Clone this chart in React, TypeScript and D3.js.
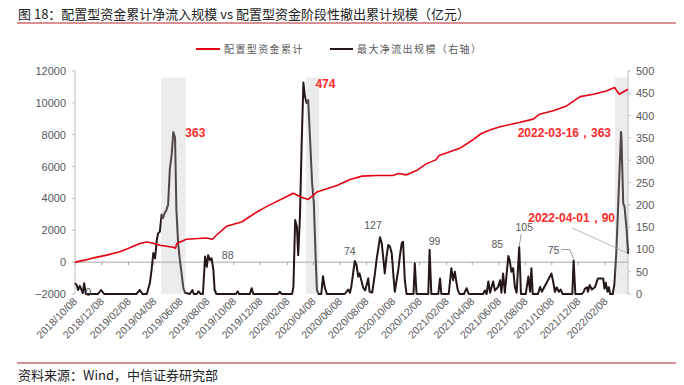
import React from 'react';
import * as d3 from 'd3';

// ---------- DATA ----------
const xTickLabels = [
  '2018/10/08', '2018/12/08', '2019/02/08', '2019/04/08', '2019/06/08', '2019/08/08',
  '2019/10/08', '2019/12/08', '2020/02/08', '2020/04/08', '2020/06/08', '2020/08/08',
  '2020/10/08', '2020/12/08', '2021/02/08', '2021/04/08', '2021/06/08', '2021/08/08',
  '2021/10/08', '2021/12/08', '2022/02/08',
];
const leftTicks = [-2000, 0, 2000, 4000, 6000, 8000, 10000, 12000];
const rightTicks = [0, 50, 100, 150, 200, 250, 300, 350, 400, 450, 500];

// 配置型资金累计 (left axis)
const cumDates = [
  '2018-10-08', '2018-10-31', '2018-11-20', '2018-12-20', '2019-01-19', '2019-02-11',
  '2019-03-06', '2019-03-22', '2019-04-03', '2019-04-21', '2019-05-07', '2019-05-21',
  '2019-05-27', '2019-05-30', '2019-06-21', '2019-08-06', '2019-08-20', '2019-08-29',
  '2019-09-21', '2019-10-26', '2019-11-30', '2019-12-23', '2020-02-07', '2020-02-21',
  '2020-03-12', '2020-03-27', '2020-04-16', '2020-06-01', '2020-07-01', '2020-07-29',
  '2020-09-01', '2020-10-08', '2020-10-20', '2020-11-08', '2020-12-01', '2020-12-23',
  '2021-01-14', '2021-01-22', '2021-02-22', '2021-03-12', '2021-04-08', '2021-04-28',
  '2021-05-20', '2021-06-11', '2021-07-25', '2021-08-26', '2021-09-10', '2021-10-11',
  '2021-11-11', '2021-12-12', '2022-01-12', '2022-02-10', '2022-03-01', '2022-03-12',
  '2022-04-01',
];
const cumValues = [
  0, 125, 270, 440, 650, 900,
  1170, 1270, 1200, 1060, 1000, 940,
  880, 1170, 1440, 1520, 1440, 1690,
  2250, 2520, 3150, 3500, 4125, 4330,
  4080, 3940, 4400, 4810, 5190, 5400,
  5440, 5440, 5560, 5480, 5750, 6170,
  6420, 6690, 7000, 7170, 7650, 8060,
  8310, 8500, 8770, 8980, 9290, 9500,
  9810, 10390, 10540, 10750, 10960, 10540,
  10850,
];

// 最大净流出规模 (right axis)
const outDates = [
  '2018-10-08', '2018-10-12', '2018-10-15', '2018-10-19', '2018-10-26', '2018-10-29', '2018-11-02',
  '2018-11-30', '2018-12-07', '2018-12-14', '2019-02-26', '2019-03-06', '2019-03-12', '2019-03-22',
  '2019-03-29', '2019-04-02', '2019-04-06', '2019-04-10', '2019-04-14', '2019-04-17', '2019-04-21',
  '2019-04-25', '2019-04-28', '2019-05-02', '2019-05-06', '2019-05-10', '2019-05-14', '2019-05-18',
  '2019-05-22', '2019-05-26', '2019-05-29', '2019-06-02', '2019-06-06', '2019-06-10', '2019-06-14',
  '2019-06-18', '2019-06-29', '2019-07-05', '2019-07-08', '2019-07-15', '2019-07-19', '2019-07-24',
  '2019-07-29', '2019-08-03', '2019-08-07', '2019-08-10', '2019-08-14', '2019-08-18', '2019-08-22',
  '2019-08-25', '2019-08-29', '2019-10-13', '2019-10-17', '2019-10-20', '2019-11-14', '2019-11-18',
  '2019-11-22', '2020-01-17', '2020-01-22', '2020-01-26', '2020-02-19', '2020-02-22', '2020-02-26',
  '2020-03-01', '2020-03-04', '2020-03-08', '2020-03-12', '2020-03-16', '2020-03-19', '2020-03-23',
  '2020-03-27', '2020-03-31', '2020-04-05', '2020-04-09', '2020-04-13', '2020-04-16', '2020-04-20',
  '2020-04-26', '2020-04-30', '2020-05-04', '2020-05-09', '2020-06-19', '2020-06-27', '2020-07-01',
  '2020-07-04', '2020-07-12', '2020-07-16', '2020-07-20', '2020-07-23', '2020-07-27', '2020-07-31',
  '2020-08-05', '2020-08-12', '2020-08-15', '2020-08-21', '2020-08-27', '2020-08-31', '2020-09-08',
  '2020-09-12', '2020-09-16', '2020-09-19', '2020-09-23', '2020-09-27', '2020-10-01', '2020-10-05',
  '2020-10-09', '2020-10-12', '2020-10-20', '2020-10-24', '2020-10-28', '2020-10-31', '2020-11-04',
  '2020-11-08', '2020-11-24', '2020-11-27', '2020-12-01', '2020-12-28', '2020-12-31', '2021-01-04',
  '2021-01-20', '2021-01-24', '2021-01-27', '2021-02-13', '2021-02-19', '2021-02-23', '2021-02-27',
  '2021-03-03', '2021-03-06', '2021-03-10', '2021-03-20', '2021-03-26', '2021-03-31', '2021-05-03',
  '2021-05-07', '2021-05-11', '2021-05-15', '2021-05-19', '2021-05-26', '2021-05-30', '2021-06-06',
  '2021-06-11', '2021-06-14', '2021-06-18', '2021-06-22', '2021-06-30', '2021-07-03', '2021-07-07',
  '2021-07-11', '2021-07-15', '2021-07-19', '2021-07-25', '2021-07-29', '2021-08-09', '2021-08-15',
  '2021-08-19', '2021-08-22', '2021-08-25', '2021-09-06', '2021-09-11', '2021-09-15', '2021-09-29',
  '2021-10-07', '2021-10-11', '2021-10-15', '2021-10-19', '2021-10-24', '2021-10-28', '2021-11-02',
  '2021-11-24', '2021-11-27', '2021-12-01', '2021-12-16', '2021-12-20', '2021-12-23', '2021-12-28',
  '2021-12-30', '2022-01-03', '2022-01-08', '2022-01-15', '2022-01-22', '2022-02-03', '2022-02-06',
  '2022-02-09', '2022-02-13', '2022-02-16', '2022-02-19', '2022-02-25', '2022-03-01', '2022-03-05',
  '2022-03-09', '2022-03-16', '2022-03-17', '2022-03-21', '2022-03-24', '2022-03-29', '2022-04-01',
];
const outValues = [
  24, 20, 9, 18, 2, 24, 0,
  0, 9, 0, 0, 9, 0, 0,
  24, 54, 92, 80, 121, 136, 140,
  178, 170, 181, 188, 200, 280, 310,
  363, 350, 190, 114, 76, 46, 13,
  3, 0, 9, 0, 0, 6, 0,
  0, 84, 61, 87, 76, 80, 54,
  9, 0, 0, 6, 0, 0, 13,
  0, 0, 5, 0, 0, 16, 166,
  151, 87, 173, 338, 474, 446, 428,
  435, 353, 248, 203, 84, 9, 0,
  0, 40, 15, 0, 0, 10, 3,
  16, 74, 65, 39, 46, 31, 15,
  8, 35, 5, 3, 43, 76, 127,
  114, 76, 46, 84, 110, 106, 91,
  39, 5, 54, 87, 114, 117, 31,
  0, 0, 69, 0, 0, 99, 0,
  0, 35, 0, 0, 58, 31, 50,
  24, 8, 0, 0, 13, 0, 0,
  8, 0, 28, 3, 28, 8, 15,
  31, 3, 46, 3, 85, 76, 50,
  58, 15, 3, 105, 0, 0, 39,
  5, 58, 0, 0, 16, 5, 31,
  46, 28, 5, 15, 5, 10, 0,
  0, 75, 0, 0, 5, 12, 15,
  5, 20, 10, 15, 35, 35, 12,
  25, 5, 15, 0, 0, 24, 91,
  188, 363, 350, 203, 196, 143, 90,
];

// shaded periods
const bandStarts = ['2019-04-24', '2020-03-22', '2022-03-02'];
const bandEnds = ['2019-06-19', '2020-04-21', '2022-04-01'];
const bandTop = 485;

// gray peak labels
const peakLabelText = ['0', '88', '74', '127', '99', '85', '105', '75'];
const peakLabelDates = ['2018-11-08', '2019-09-24', '2020-07-12', '2020-09-08', '2020-12-31', '2021-06-30', '2021-07-25', '2021-11-27'];
const peakLabelValues = [0, 88, 74, 127, 99, 85, 105, 75];

// red labels
const redLabels = [
  { text: '363', date: '2019-05-22', value: 363, dx: 12, dy: 5, anchor: 'start' },
  { text: '474', date: '2020-03-16', value: 474, dx: 12, dy: 5, anchor: 'start' },
  { text: '2022-03-16，363', date: '2022-03-16', value: 363, dx: -10, dy: 5, anchor: 'end' },
  { text: '2022-04-01，90', date: '2022-04-01', value: 90, dx: -13, dy: -32, anchor: 'end' },
];

// ---------- LAYOUT ----------
const W = 684, H = 385;
const X0 = 75, X1 = 628, YT = 71, YB = 294;
const parse = d3.timeParse('%Y-%m-%d');
const parseTick = d3.timeParse('%Y/%m/%d');

export default function App() {
  const x = d3.scaleTime().domain([parse('2018-10-08')!, parse('2022-04-01')!]).range([X0, X1]);
  const yL = d3.scaleLinear().domain([-2000, 12000]).range([YB, YT]);
  const yR = d3.scaleLinear().domain([0, 500]).range([YB, YT]);

  const cum = cumDates.map((d, i) => ({ d: parse(d)!, v: cumValues[i] }));
  const out = outDates.map((d, i) => ({ d: parse(d)!, v: outValues[i] }));
  const redLine = d3.line<{ d: Date; v: number }>().x(p => x(p.d)).y(p => yL(p.v));
  const blkLine = d3.line<{ d: Date; v: number }>().x(p => x(p.d)).y(p => yR(p.v));

  const gray = '#595959';
  const axisCol = '#bfbfbf';
  const red = '#e60012';
  const lblRed = '#ff2a2a';
  const cjk = '"Noto Sans CJK SC", "Noto Sans", sans-serif';
  const num = '"Liberation Sans", Arial, sans-serif';

  const lp = (i: number) => ({ x: x(parse(peakLabelDates[i])!), y: yR(peakLabelValues[i]) });
  const l105 = lp(6), l75 = lp(7);
  const end = { x: x(parse('2022-04-01')!), y: yR(90) };

  return (
    <svg width={W} height={H} style={{ position: 'absolute', left: 0, top: 0, background: '#fff' }}>
      {/* title */}
      <text x={18} y={19} fontFamily={cjk} fontSize={13} fill="#222">
        图 18：配置型资金累计净流入规模 vs 配置型资金阶段性撤出累计规模（亿元）
      </text>
      <line x1={17} x2={676} y1={23} y2={23} stroke="#b0252b" strokeWidth={1.2} />

      {/* legend */}
      <line x1={196} x2={220} y1={49} y2={49} stroke={red} strokeWidth={2} />
      <text x={224} y={53} fontFamily={cjk} fontSize={10} letterSpacing={1.4} fill={gray}>配置型资金累计</text>
      <line x1={330} x2={353} y1={49} y2={49} stroke="#231815" strokeWidth={2} />
      <text x={357} y={53} fontFamily={cjk} fontSize={10} letterSpacing={1.4} fill={gray}>最大净流出规模（右轴）</text>

      {/* axes */}
      <line x1={X0} x2={X0} y1={YT} y2={YB} stroke={axisCol} />
      <line x1={X1} x2={X1} y1={YT} y2={YB} stroke={axisCol} />
      {leftTicks.map(t => (
        <g key={'l' + t}>
          <line x1={X0 - 3} x2={X0} y1={yL(t)} y2={yL(t)} stroke={axisCol} />
          <text x={66} y={yL(t) + 4} textAnchor="end" fontFamily={num} fontSize={11} fill={gray}>
            {t < 0 ? '\u2212' + Math.abs(t) : t}
          </text>
        </g>
      ))}
      {rightTicks.map(t => (
        <g key={'r' + t}>
          <line x1={X1} x2={X1 + 3} y1={yR(t)} y2={yR(t)} stroke={axisCol} />
          <text x={636} y={yR(t) + 4} textAnchor="start" fontFamily={num} fontSize={11} fill={gray}>{t}</text>
        </g>
      ))}
      <line x1={X0} x2={X1} y1={yL(0)} y2={yL(0)} stroke="#a6a6a6" />
      {xTickLabels.map(t => {
        const tx = x(parseTick(t)!);
        return (
          <g key={t}>
            <line x1={tx} x2={tx} y1={yL(0)} y2={yL(0) + 3} stroke="#a6a6a6" />
            <text transform={`translate(${tx + 3},${302}) rotate(-45)`} textAnchor="end" fontFamily={num} fontSize={10.5} fill={gray}>{t}</text>
          </g>
        );
      })}

      {/* black series */}
      <path d={blkLine(out) ?? ''} fill="none" stroke="#231815" strokeWidth={2} strokeLinejoin="round" />

      {/* shaded periods */}
      {bandStarts.map((s, i) => {
        const a = x(parse(s)!), b = x(parse(bandEnds[i])!);
        return <rect key={s} x={a} y={yR(bandTop)} width={b - a} height={YB - yR(bandTop)} fill="#bebebe" fillOpacity={0.29} />;
      })}

      {/* red series */}
      <path d={redLine(cum) ?? ''} fill="none" stroke={red} strokeWidth={1.6} strokeLinejoin="round" />

      {/* gray labels */}
      {peakLabelText.map((t, i) => {
        const p = lp(i);
        const offs = [[0, 2], [0, 4], [-5, -6], [-7, -8], [5, -5], [-11, -8], [5, -16], [-20, -7]][i];
        return (
          <text key={'p' + i} x={p.x + offs[0]} y={p.y + offs[1]} textAnchor="middle" fontFamily={num} fontSize={10.5} fill={gray}>{t}</text>
        );
      })}
      <line x1={l105.x + 2} y1={l105.y - 13} x2={l105.x} y2={l105.y - 1} stroke="#808080" strokeWidth={0.8} />
      <polyline points={`${l75.x - 12},${l75.y - 11} ${l75.x - 4},${l75.y - 11} ${l75.x},${l75.y - 2}`} fill="none" stroke="#808080" strokeWidth={0.8} />
      <line x1={end.x - 56} y1={end.y - 26} x2={end.x - 1} y2={end.y - 1} stroke="#a6a6a6" strokeWidth={0.8} />

      {/* red labels */}
      {redLabels.map(l => {
        const px = x(parse(l.date)!), py = yR(l.value);
        return (
          <text key={l.text} x={px + l.dx} y={py + l.dy} textAnchor={l.anchor as any} fontFamily={num} fontWeight="bold" fontSize={12} fill={lblRed}>{l.text}</text>
        );
      })}

      {/* footer */}
      <line x1={17} x2={676} y1={363} y2={363} stroke="#b0252b" strokeWidth={1.2} />
      <text x={18} y={380} fontFamily={cjk} fontSize={13} fill="#222">资料来源：Wind，中信证券研究部</text>
    </svg>
  );
}
